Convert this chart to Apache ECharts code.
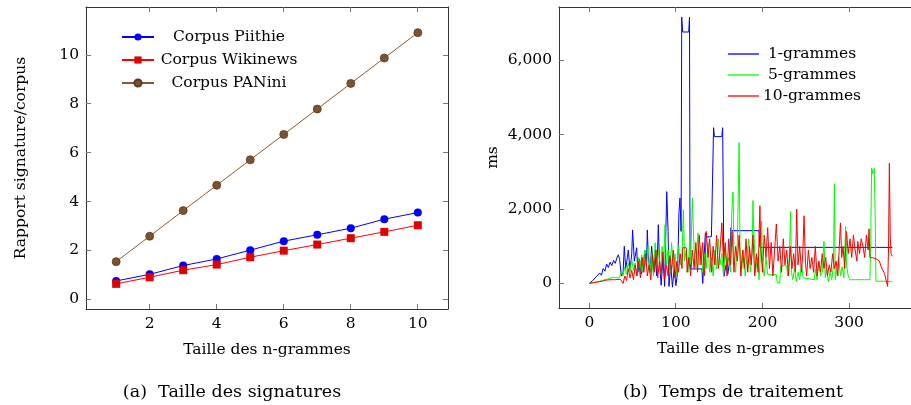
<!DOCTYPE html>
<html><head><meta charset="utf-8">
<script src="https://cdn.jsdelivr.net/npm/echarts@6/dist/echarts.min.js"></script>
<style>html,body{margin:0;padding:0;background:#fff}#c{width:911px;height:405px}</style>
</head><body><div id="c"></div>
<script>
// ---- Left chart data (a) ----
const ngramSizes = [1,2,3,4,5,6,7,8,9,10];
const piithie  = [0.75,1.02,1.38,1.65,2.01,2.38,2.64,2.91,3.28,3.55];
const wikinews = [0.63,0.90,1.19,1.42,1.72,1.99,2.24,2.50,2.76,3.03];
const panini   = [1.54,2.58,3.63,4.67,5.71,6.75,7.79,8.84,9.88,10.92];
const leftXTicks = [2,4,6,8,10];
const leftYTicks = [0,2,4,6,8,10];
const leftXRange = [0.1, 10.9];
const leftYRange = [-0.4, 11.97];

// ---- Right chart data (b) : [taille, ms] ----
const rightXTicks = [0,100,200,300];
const rightYTicks = [0,2000,4000,6000];
const rightXRange = [-35, 385];
const rightYRange = [-661, 7438];
const grammes1 = [[0,0],[2,40],[4,80],[6,60],[8,180],[10,140],[12,280],[14,220],[16,400],[18,330],[20,520],[22,430],[24,570],[26,480],[28,620],[30,540],[32,700],[33.5,770],[35,650],[37,200],[39,300],[40.4,1000],[42,400],[44,700],[45,900],[47,350],[49,800],[50,1440],[52,600],[54.7,960],[56,300],[58,650],[60,250],[62,370],[64,900],[66,500],[67,1440],[68,800],[70,300],[72,1000],[74,350],[76,700],[78,200],[79.7,1580],[81,600],[83,-50],[85,700],[87,-80],[89.4,2470],[91,1400],[92,-80],[94,500],[96,-100],[98,400],[100,-60],[102,300],[103.5,1900],[104.7,2300],[106,1400],[106.7,7165],[107.8,6765],[114.8,6765],[115.7,7165],[116.3,1000],[117,390],[130,390],[131,0],[134,1360],[136,1250],[138,1300],[141,1260],[143.5,4190],[144.5,3950],[153,3950],[154,4190],[155.5,190],[158,500],[160,250],[162,600],[163.6,1500],[164,1420],[196,1420],[197,970],[350,970]];
const grammes5 = [[0,0],[4,20],[8,40],[12,60],[16,90],[20,110],[24,140],[28,170],[31,150],[33,190],[35,160],[37,320],[39,200],[41,450],[43,250],[45,550],[47,300],[49,650],[51,350],[53,550],[55,200],[57,700],[59,400],[60.5,770],[62,300],[64,900],[66,450],[68,1000],[70,300],[72,800],[74,200],[76,1100],[78,500],[80,900],[82,250],[84,1000],[86,600],[87.4,1580],[89,500],[91,900],[93,300],[95,1100],[97,400],[99,800],[101,200],[103,1000],[105,500],[107,700],[108.6,1980],[110,600],[112,900],[114,300],[116,1200],[117,500],[119,2300],[121,900],[123,400],[125.5,1360],[127,500],[129,1000],[131,300],[133,800],[135,400],[137,1100],[139,300],[141,700],[143,200],[145,900],[147,400],[149,1200],[151,500],[153,800],[155,200],[157,1000],[159,400],[161,700],[163,300],[164.5,1900],[166,2460],[167,800],[169,300],[171,1100],[173,3790],[174,1000],[176,400],[178,900],[180,200],[182,700],[184,1200],[186,300],[188,800],[189,2230],[190,1400],[192,300],[194,700],[196,100],[197,500],[199,1670],[200,500],[202,200],[204,700],[206,235],[216,235],[217,20],[220,20],[221,475],[228,475],[229,200],[231,700],[232.5,1935],[233.5,300],[235,100],[237,400],[239,50],[241,300],[243,100],[245,500],[247,150],[249,100],[260,100],[261,400],[263,100],[265,600],[267,200],[269,300],[271,1130],[272.5,150],[274,400],[276,50],[278,300],[280,100],[282,500],[283,2680],[284,100],[286,400],[288,700],[290,200],[292,450],[294,150],[296,1530],[297,500],[299,200],[301,100],[318,100],[320,80],[324,100],[325,1200],[326,3110],[327.5,2950],[329,3100],[330,2000],[331,60],[340,60],[344,50],[346,20],[348,50],[350,50]];
const grammes10 = [[0,0],[5,20],[10,40],[15,60],[20,90],[25,100],[30,100],[36,110],[38,60],[39,0],[41,200],[43,80],[45,400],[47,150],[49,350],[51,100],[53,500],[55,200],[57,600],[59,150],[61,700],[63,300],[65,800],[67,200],[69,500],[71,100],[73,800],[75,300],[77,900],[79,150],[81,600],[83,250],[85,850],[87,100],[89,500],[91,200],[93,750],[95,350],[97,900],[99,150],[101,600],[103,300],[105,800],[107,400],[108,960],[112,960],[113,300],[115,700],[117,200],[119,900],[121,400],[123,1100],[125,300],[127,1300],[129,500],[131,1100],[133,200],[135,1400],[137,700],[139,1200],[141,300],[143,1000],[145,500],[147,1300],[149,400],[151,900],[153,1630],[155,600],[157,1100],[159,200],[161,1200],[163,500],[165,1400],[167,300],[169,1000],[171,600],[173,1300],[175,200],[177,900],[179,400],[181,1200],[183,300],[185,1000],[187,500],[189,1300],[191,200],[193,800],[195,300],[197,2090],[198,1000],[200,300],[202,1300],[204,700],[206,1500],[208,400],[210,1100],[212,200],[214,900],[216,1600],[218,600],[220,1000],[222,300],[224,1200],[226,500],[228,900],[230,200],[232,1000],[234,400],[236,800],[238,300],[239.5,2000],[241,500],[243,1000],[245,300],[246.5,800],[248,1820],[249.5,600],[251,200],[253,900],[255,400],[257,700],[259,300],[261,1000],[263,200],[265,600],[267,300],[269,800],[271,400],[273,700],[275,200],[277,500],[279,300],[281,800],[283,400],[285,600],[287,200],[288.5,900],[290,1630],[291.5,700],[293,1000],[295,400],[297,1400],[299,800],[301,1200],[303,700],[305,1300],[307,900],[309,600],[310,1130],[312,800],[314,1200],[316,1000],[318,700],[320,1300],[322,900],[323,1470],[324,700],[328,690],[332,650],[335,600],[337,450],[339,400],[341,260],[343,300],[344.5,-80],[345.5,900],[346.5,3240],[347.5,1300],[348.5,800],[350,730]];

const FONT = '"DejaVu Serif","Liberation Serif",serif';
const FS = 15.5;
const TICK_LEN = 5;
const chart = echarts.init(document.getElementById('c'), null, {renderer:'canvas'});

function axisBase(range, ticks, pos, gridIndex, showLabel, fmt) {
  return {
    type:'value', gridIndex, position: pos, min:range[0], max:range[1],
    axisLine:{show:true, onZero:false, lineStyle:{color:'#333', width:1}},
    splitLine:{show:false},
    axisTick:{show:false},
    axisLabel:{show:showLabel, customValues:ticks, color:'#000', fontFamily:FONT, fontSize:FS, margin:7,
      formatter: fmt || (v => String(v))}
  };
}
const fmtK = v => Number(v).toLocaleString('en-US');
const nameStyle = {fontFamily:FONT, fontSize:FS, color:'#000'};
const crisp = v => Math.round(v - 0.5) + 0.5;
const tickStyle = {stroke:'#777', lineWidth:1};

// inward tick marks on all four sides, placed through the axes' own scales
function xTickSeries(xi, yi, ticks, yRange) {
  return {type:'custom', xAxisIndex:xi, yAxisIndex:yi, silent:true, clip:false, z:5,
    data: ticks.map(v => [v, yRange[0]]),
    renderItem: (params, api) => {
      const v = api.value(0);
      const b = api.coord([v, yRange[0]]), t = api.coord([v, yRange[1]]);
      const x = crisp(b[0]);
      return {type:'group', children:[
        {type:'line', shape:{x1:x, y1:b[1], x2:x, y2:b[1]-TICK_LEN}, style:tickStyle},
        {type:'line', shape:{x1:x, y1:t[1], x2:x, y2:t[1]+TICK_LEN}, style:tickStyle}]};
    }};
}
function yTickSeries(xi, yi, ticks, xRange) {
  return {type:'custom', xAxisIndex:xi, yAxisIndex:yi, silent:true, clip:false, z:5,
    data: ticks.map(v => [xRange[0], v]),
    renderItem: (params, api) => {
      const v = api.value(1);
      const l = api.coord([xRange[0], v]), r = api.coord([xRange[1], v]);
      const y = crisp(l[1]);
      return {type:'group', children:[
        {type:'line', shape:{x1:l[0], y1:y, x2:l[0]+TICK_LEN, y2:y}, style:tickStyle},
        {type:'line', shape:{x1:r[0], y1:y, x2:r[0]-TICK_LEN, y2:y}, style:tickStyle}]};
    }};
}

const xL = axisBase(leftXRange, leftXTicks, 'bottom', 0, true);
Object.assign(xL, {name:'Taille des n-grammes', nameLocation:'middle', nameGap:33, nameTextStyle:nameStyle});
const xLt = axisBase(leftXRange, leftXTicks, 'top', 0, false);
const yL = axisBase(leftYRange, leftYTicks, 'left', 0, true);
Object.assign(yL, {name:'Rapport signature/corpus', nameLocation:'middle', nameGap:57, nameTextStyle:nameStyle});
const yLr = axisBase(leftYRange, leftYTicks, 'right', 0, false);

const xR = axisBase(rightXRange, rightXTicks, 'bottom', 1, true);
Object.assign(xR, {name:'Taille des n-grammes', nameLocation:'middle', nameGap:33, nameTextStyle:nameStyle});
const xRt = axisBase(rightXRange, rightXTicks, 'top', 1, false);
const yR = axisBase(rightYRange, rightYTicks, 'left', 1, true, fmtK);
Object.assign(yR, {name:'ms', nameLocation:'middle', nameGap:58, nameTextStyle:nameStyle});
const yRr = axisBase(rightYRange, rightYTicks, 'right', 1, false);

const legendText = w => ({fontFamily:FONT, fontSize:FS, color:'#000',
  rich:{c:{width:w, align:'center', fontFamily:FONT, fontSize:FS, color:'#000'}}});

chart.setOption({
  animation:false,
  backgroundColor:'#fff',
  grid:[
    {left:86, top:7, width:362, height:302, show:false, containLabel:false, outerBoundsMode:'none'},
    {left:559, top:7, width:363.7, height:301, show:false, containLabel:false, outerBoundsMode:'none'}
  ],
  xAxis:[xL, xLt, xR, xRt],
  yAxis:[yL, yLr, yR, yRr],
  legend:[
    {data:['Corpus Piithie','Corpus Wikinews','Corpus PANini'], orient:'vertical', left:116, top:24,
     itemWidth:32, itemHeight:9, itemGap:7, formatter:n => '{c|' + n + '}', textStyle:legendText(140)},
    {data:[{name:'1-grammes', icon:'rect'},{name:'5-grammes', icon:'rect'},{name:'10-grammes', icon:'rect'}],
     orient:'vertical', left:723, top:41,
     itemWidth:31, itemHeight:1.3, itemGap:5, formatter:n => '{c|' + n + '}', textStyle:legendText(96)}
  ],
  graphic:[
    {type:'text', style:{text:'(a)  Taille des signatures', x:232, y:392, align:'center', verticalAlign:'middle',
      fontFamily:FONT, fontSize:17.5, fill:'#000'}},
    {type:'text', style:{text:'(b)  Temps de traitement', x:733, y:392, align:'center', verticalAlign:'middle',
      fontFamily:FONT, fontSize:17.5, fill:'#000'}}
  ],
  series:[
    xTickSeries(0, 0, leftXTicks, leftYRange),
    yTickSeries(0, 0, leftYTicks, leftXRange),
    xTickSeries(2, 2, rightXTicks, rightYRange),
    yTickSeries(2, 2, rightYTicks, rightXRange),
    {name:'Corpus Piithie', type:'line', xAxisIndex:0, yAxisIndex:0,
     data:ngramSizes.map((s,i)=>[s,piithie[i]]), symbol:'circle', symbolSize:8,
     lineStyle:{color:'#0000ff', width:1}, itemStyle:{color:'#0000ff'}},
    {name:'Corpus Wikinews', type:'line', xAxisIndex:0, yAxisIndex:0,
     data:ngramSizes.map((s,i)=>[s,wikinews[i]]), symbol:'rect', symbolSize:8,
     lineStyle:{color:'#ff0000', width:1}, itemStyle:{color:'#e00000'}},
    {name:'Corpus PANini', type:'line', xAxisIndex:0, yAxisIndex:0,
     data:ngramSizes.map((s,i)=>[s,panini[i]]), symbol:'circle', symbolSize:8,
     lineStyle:{color:'#8b5a2b', width:1}, itemStyle:{color:'#7d5230', borderColor:'#5c3a1e', borderWidth:0.8}},
    {name:'1-grammes', type:'line', xAxisIndex:2, yAxisIndex:2, data:grammes1, symbol:'none',
     lineStyle:{color:'#0000ff', width:1}, itemStyle:{color:'#0000ff'}},
    {name:'5-grammes', type:'line', xAxisIndex:2, yAxisIndex:2, data:grammes5, symbol:'none',
     lineStyle:{color:'#00ff00', width:1}, itemStyle:{color:'#00ff00'}},
    {name:'10-grammes', type:'line', xAxisIndex:2, yAxisIndex:2, data:grammes10, symbol:'none',
     lineStyle:{color:'#ff0000', width:1}, itemStyle:{color:'#ff0000'}}
  ]
});
</script></body></html>
